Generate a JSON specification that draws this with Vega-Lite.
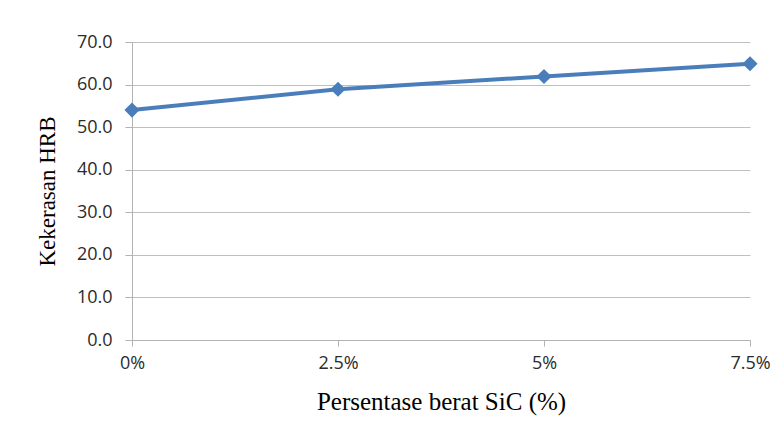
{
  "$schema": "https://vega.github.io/schema/vega-lite/v6.json",
  "autosize": "none",
  "width": 618,
  "height": 298,
  "padding": {"left": 132, "top": 42, "right": 23, "bottom": 90},
  "background": "white",
  "config": {"view": {"stroke": null}},
  "data": {"values": [
    {"sic": 0, "label": "0%", "hrb": 54.0},
    {"sic": 2.5, "label": "2.5%", "hrb": 58.9},
    {"sic": 5, "label": "5%", "hrb": 61.9},
    {"sic": 7.5, "label": "7.5%", "hrb": 64.9}
  ]},
  "encoding": {
    "x": {
      "field": "sic", "type": "quantitative",
      "scale": {"domain": [0, 7.5], "nice": false, "zero": false},
      "axis": {
        "values": [0, 2.5, 5, 7.5],
        "labelExpr": "datum.value + '%'",
        "grid": false,
        "domainColor": "#b3b3b3",
        "tickColor": "#b3b3b3",
        "tickSize": 6,
        "labelPadding": 8,
        "labelFont": "Open Sans",
        "labelFontSize": 18,
        "labelColor": "#2b2b2b",
        "labelFlush": false,
        "title": "Persentase berat SiC (%)",
        "titleFont": "Liberation Serif",
        "titleFontSize": 25,
        "titleFontWeight": "normal",
        "titleColor": "#000000",
        "titlePadding": 17
      }
    },
    "y": {
      "field": "hrb", "type": "quantitative",
      "scale": {"domain": [0, 70], "nice": false},
      "axis": {
        "values": [0, 10, 20, 30, 40, 50, 60, 70],
        "format": ".1f",
        "grid": true,
        "gridColor": "#bfbfbf",
        "domainColor": "#b3b3b3",
        "tickColor": "#b3b3b3",
        "tickSize": 7,
        "labelPadding": 13,
        "labelFont": "Open Sans",
        "labelFontSize": 18,
        "labelColor": "#2b2b2b",
        "title": "Kekerasan HRB",
        "titleFont": "Liberation Serif",
        "titleFontSize": 23,
        "titleFontWeight": "normal",
        "titleColor": "#000000",
        "titlePadding": 17
      }
    }
  },
  "layer": [
    {"mark": {"type": "line", "color": "#4a7ebb", "strokeWidth": 4}},
    {"mark": {"type": "point", "shape": "diamond", "filled": true, "opacity": 1, "color": "#4a7ebb", "size": 230}}
  ]
}
